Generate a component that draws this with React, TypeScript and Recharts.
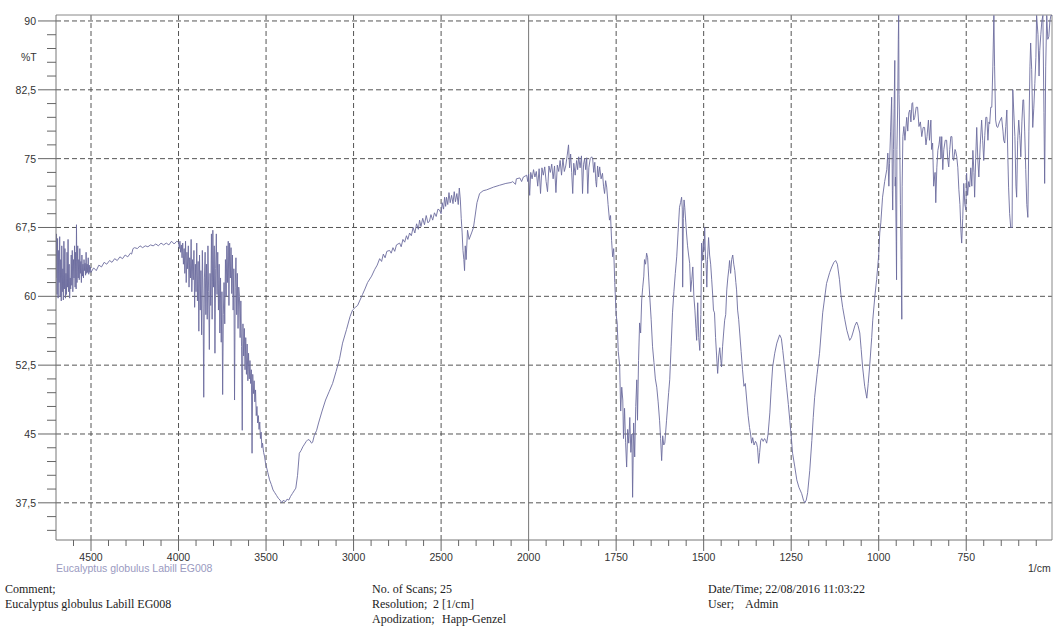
import { LineChart, Line, XAxis, YAxis, ReferenceLine } from "recharts";

// FTIR spectrum of Eucalyptus globulus Labill EG008, [wavenumber (1/cm), %T]
const highEdge: [number, number][] = [
  [4700, 62.0], [4697, 66.8], [4694, 60.2], [4691, 66.3], [4688, 59.8], [4685, 65.0],
  [4682, 61.5], [4679, 66.5], [4676, 60.0], [4673, 64.0], [4670, 59.5], [4667, 65.5],
  [4664, 60.5], [4661, 63.0], [4658, 59.6], [4655, 66.0], [4652, 60.8], [4649, 65.2],
  [4646, 59.8], [4643, 62.5], [4640, 60.2], [4637, 64.8], [4634, 61.0], [4631, 66.2],
  [4628, 60.5], [4625, 63.5], [4622, 59.8], [4619, 62.0], [4616, 60.8], [4613, 64.5],
  [4610, 61.2], [4607, 65.0], [4604, 60.5], [4600, 64.0], [4597, 62.0], [4594, 65.5],
  [4591, 61.0], [4588, 64.8], [4585, 60.8], [4583, 67.8], [4580, 61.5], [4576, 65.5],
  [4573, 62.0], [4570, 64.0], [4567, 61.8], [4564, 65.2], [4561, 62.5], [4558, 63.8],
  [4555, 61.5], [4552, 64.5], [4549, 62.2], [4546, 63.5], [4543, 62.0], [4540, 64.0],
  [4537, 62.8], [4534, 63.6], [4531, 62.3], [4528, 64.8], [4525, 62.5], [4522, 63.5],
  [4519, 62.6], [4516, 64.2], [4513, 62.4], [4510, 63.4], [4507, 62.6], [4504, 63.2],
];

const baseline4500: [number, number][] = [
  [4500, 62.6], [4485, 63.1], [4470, 62.8], [4455, 63.4], [4440, 63.2], [4425, 63.7],
  [4410, 63.5], [4394, 63.9], [4380, 63.7], [4365, 64.1], [4350, 63.9], [4335, 64.3],
  [4320, 64.1], [4305, 64.5], [4290, 64.3], [4275, 64.7], [4268, 64.6], [4260, 65.2],
  [4251, 65.3], [4235, 65.2], [4220, 65.5], [4205, 65.3], [4190, 65.5], [4175, 65.4],
  [4160, 65.6], [4145, 65.5], [4130, 65.7], [4115, 65.5], [4100, 65.8], [4085, 65.6],
  [4070, 65.8], [4055, 65.6], [4040, 66.0], [4025, 65.7], [4010, 66.0],
];

const waterVapour: [number, number][] = [
  [4000, 65.9], [3996, 65.2], [3992, 66.0], [3988, 64.8], [3984, 65.6], [3980, 64.2],
  [3976, 65.8], [3972, 63.5], [3968, 65.2], [3964, 62.5], [3960, 66.0], [3956, 61.5],
  [3952, 64.8], [3948, 63.0], [3944, 65.5], [3940, 61.0], [3936, 64.2], [3932, 62.0],
  [3928, 66.2], [3924, 60.5], [3920, 64.0], [3916, 61.8], [3912, 65.0], [3908, 58.8],
  [3904, 63.5], [3900, 60.5], [3896, 65.8], [3892, 59.5], [3888, 63.8], [3884, 56.2],
  [3880, 64.5], [3876, 58.5], [3872, 62.8], [3868, 55.8], [3864, 65.0], [3860, 60.0],
  [3856, 49.0], [3852, 62.0], [3848, 64.8], [3844, 58.0], [3840, 63.5], [3836, 57.5],
  [3832, 65.5], [3828, 60.5], [3824, 54.2], [3820, 62.5], [3816, 59.0], [3812, 66.8],
  [3808, 57.5], [3804, 67.2], [3800, 61.0], [3796, 65.5], [3792, 53.8], [3788, 63.0],
  [3784, 66.8], [3780, 60.2], [3776, 64.8], [3772, 58.5], [3768, 63.5], [3764, 56.0],
  [3760, 62.0], [3756, 55.0], [3752, 60.5], [3748, 49.3], [3744, 58.0], [3740, 61.5],
  [3736, 57.0], [3732, 64.0], [3728, 60.0], [3724, 65.5], [3720, 61.5], [3716, 66.0],
  [3712, 59.0], [3708, 65.8], [3704, 62.0], [3700, 65.3], [3696, 60.3], [3692, 64.5],
  [3688, 58.5], [3684, 63.0], [3680, 48.7], [3676, 61.0], [3672, 64.2], [3668, 58.0],
  [3664, 62.5], [3660, 56.5], [3656, 61.0], [3652, 60.0], [3648, 55.5], [3644, 59.5],
  [3640, 54.5], [3636, 45.4], [3632, 57.0], [3628, 53.5], [3624, 56.5], [3620, 52.0],
  [3616, 55.5], [3612, 51.5], [3608, 54.8], [3604, 50.8], [3600, 53.8], [3596, 51.0],
  [3592, 53.0], [3588, 50.5], [3584, 52.0], [3580, 42.9], [3576, 51.5], [3572, 49.4],
  [3568, 50.8], [3564, 48.5], [3560, 49.8], [3556, 47.0], [3552, 48.0], [3548, 46.2],
  [3544, 47.0], [3540, 45.5], [3536, 46.3], [3532, 44.5], [3528, 45.2], [3524, 43.5],
  [3520, 44.0], [3514, 43.0], [3508, 42.5],
];

const ohBand: [number, number][] = [
  [3503, 41.8], [3495, 41.2], [3490, 40.8], [3480, 40.0], [3470, 39.5], [3460, 38.9],
  [3450, 38.6], [3440, 38.3], [3430, 38.0], [3420, 37.8], [3410, 37.5], [3400, 37.8],
  [3390, 37.6], [3380, 37.9], [3370, 37.8], [3360, 38.2], [3350, 38.5], [3340, 38.8],
  [3330, 39.1], [3320, 40.5], [3310, 42.9], [3300, 43.2], [3290, 43.6], [3280, 43.9],
  [3270, 44.2], [3260, 44.4], [3250, 44.3], [3240, 44.0], [3234, 44.1], [3225, 44.8],
  [3211, 45.4], [3200, 46.2], [3180, 47.5], [3160, 48.7], [3140, 49.6], [3120, 50.5],
  [3100, 51.8], [3080, 53.2], [3063, 54.9], [3040, 56.4], [3020, 57.8], [3006, 58.5],
  [2990, 58.8], [2977, 59.0], [2963, 59.6], [2949, 60.2], [2935, 60.8], [2920, 61.5],
  [2897, 62.2], [2880, 62.9], [2865, 63.4], [2851, 64.1], [2840, 63.8], [2830, 64.6],
  [2820, 64.2], [2810, 64.9], [2794, 65.0], [2785, 64.7], [2775, 65.3], [2765, 64.9],
  [2755, 65.6], [2737, 65.8], [2728, 65.4], [2718, 66.2], [2708, 65.9], [2698, 66.6],
  [2690, 66.2], [2680, 66.9], [2670, 66.6], [2660, 67.5], [2650, 66.9], [2640, 67.9],
  [2630, 67.3], [2623, 68.3], [2615, 67.6], [2605, 68.5], [2595, 67.8], [2585, 68.8],
  [2575, 68.0], [2566, 68.2], [2558, 68.9], [2548, 68.3], [2538, 69.1], [2528, 68.7],
  [2518, 69.5], [2509, 69.4], [2500, 69.0], [2494, 70.2], [2486, 69.5], [2480, 70.8],
  [2474, 69.8], [2469, 70.8], [2462, 70.0], [2455, 71.3], [2448, 70.2], [2440, 71.0],
  [2432, 70.1], [2425, 71.4], [2418, 70.3], [2410, 71.2], [2402, 70.0], [2396, 71.8],
  [2390, 70.5], [2385, 68.5], [2380, 67.0], [2375, 65.0], [2370, 64.0], [2366, 62.8],
  [2362, 65.5], [2357, 64.0], [2349, 67.2], [2340, 66.2], [2326, 66.9], [2315, 67.5],
  [2309, 68.3], [2295, 70.2], [2280, 71.2], [2260, 71.5], [2240, 71.6], [2200, 71.9],
  [2166, 72.1], [2130, 72.3], [2100, 72.4], [2091, 72.5], [2075, 72.2], [2070, 72.8],
  [2050, 72.9], [2040, 72.5], [2030, 73.0], [2020, 73.1], [2011, 73.2], [2005, 72.5],
];

const carbonylRegion: [number, number][] = [
  [2000, 73.3], [1997, 71.0], [1994, 73.5], [1990, 72.8], [1986, 73.8], [1982, 73.0],
  [1978, 73.6], [1974, 72.0], [1970, 73.9], [1966, 71.2], [1962, 74.0], [1958, 73.2],
  [1954, 74.1], [1950, 72.5], [1946, 71.4], [1942, 74.2], [1938, 73.5], [1934, 74.4],
  [1930, 72.8], [1926, 74.2], [1922, 71.3], [1918, 74.3], [1914, 73.6], [1910, 74.8],
  [1906, 73.2], [1902, 75.0], [1898, 73.6], [1894, 74.2], [1890, 75.3], [1886, 76.5],
  [1883, 74.0], [1880, 75.5], [1877, 73.5], [1874, 71.2], [1871, 74.5], [1867, 73.2],
  [1863, 74.8], [1860, 73.8], [1857, 75.2], [1853, 74.0], [1849, 75.3], [1846, 71.2],
  [1843, 74.4], [1840, 75.0], [1837, 73.8], [1834, 75.1], [1831, 71.2], [1828, 74.0],
  [1824, 75.0], [1820, 75.2], [1817, 75.0], [1814, 73.5], [1811, 74.6], [1808, 72.5],
  [1806, 71.9], [1803, 74.2], [1800, 73.0], [1797, 74.1], [1793, 72.8], [1789, 73.4],
  [1786, 72.0], [1783, 71.2], [1780, 72.6], [1777, 71.9], [1773, 70.0], [1769, 68.3],
  [1766, 68.8], [1763, 66.1], [1760, 64.3], [1757, 65.2], [1754, 61.5], [1750, 58.0],
  [1747, 57.1], [1744, 54.0], [1740, 52.5], [1737, 47.5], [1734, 50.1], [1731, 48.7],
  [1729, 44.5], [1726, 47.8], [1723, 44.1], [1720, 41.4], [1717, 45.5], [1714, 44.0],
  [1711, 46.8], [1708, 43.0], [1705, 45.0], [1703, 38.1], [1700, 46.2], [1697, 42.5],
  [1694, 48.0], [1691, 50.9], [1689, 46.5], [1686, 53.0], [1683, 57.1], [1680, 56.0],
  [1677, 59.6], [1674, 61.0], [1671, 62.2], [1669, 64.0], [1666, 63.5], [1663, 64.7],
  [1660, 64.2], [1657, 62.0], [1654, 60.0], [1650, 57.5], [1646, 54.5], [1642, 52.8],
  [1638, 51.0], [1634, 50.1], [1630, 48.5], [1626, 46.5], [1623, 44.5], [1620, 42.1],
  [1617, 44.8], [1614, 43.8], [1611, 44.0], [1606, 46.5], [1600, 49.5], [1597, 50.9],
  [1593, 54.5], [1589, 58.2], [1585, 60.5], [1581, 62.5], [1577, 64.3], [1573, 67.0],
  [1569, 69.7], [1566, 70.2], [1563, 70.8], [1561, 69.5], [1560, 61.0], [1558, 68.5],
  [1556, 70.5], [1554, 69.7], [1551, 68.0], [1549, 66.9], [1546, 65.5], [1543, 64.5],
  [1540, 63.6], [1537, 60.5], [1534, 61.8], [1531, 63.2], [1528, 60.0], [1525, 58.5],
  [1522, 56.5], [1520, 55.2], [1517, 59.3], [1514, 55.5], [1511, 54.1], [1508, 58.0],
];

const fingerprint: [number, number][] = [
  [1506, 65.8], [1503, 63.9], [1501, 66.0], [1499, 65.0], [1497, 67.5], [1495, 64.5],
  [1493, 63.5], [1491, 61.0], [1489, 64.0], [1486, 66.4], [1483, 64.5], [1480, 63.5],
  [1477, 61.8], [1474, 60.0], [1472, 58.5], [1469, 58.2], [1466, 55.5], [1463, 53.5],
  [1460, 51.6], [1457, 53.5], [1454, 54.4], [1451, 53.0], [1449, 52.3], [1446, 54.5],
  [1443, 56.0], [1440, 57.4], [1437, 58.0], [1434, 60.7], [1431, 62.0], [1428, 63.0],
  [1426, 63.9], [1423, 62.5], [1420, 64.0], [1417, 64.5], [1414, 63.5], [1411, 62.8],
  [1408, 61.5], [1406, 60.7], [1403, 58.5], [1400, 57.5], [1397, 56.0], [1393, 54.0],
  [1389, 52.0], [1385, 50.2], [1381, 50.5], [1377, 48.7], [1373, 47.0], [1369, 45.7],
  [1366, 45.0], [1363, 44.0], [1360, 44.6], [1356, 43.8], [1352, 44.2], [1349, 44.0],
  [1346, 43.5], [1343, 41.8], [1340, 43.0], [1337, 44.3], [1334, 44.5], [1330, 44.2],
  [1326, 44.5], [1323, 44.3], [1320, 44.0], [1316, 45.0], [1311, 47.3], [1307, 50.0],
  [1303, 52.3], [1297, 53.8], [1291, 54.9], [1283, 55.8], [1278, 55.4], [1274, 54.1],
  [1268, 52.0], [1263, 50.1], [1258, 48.2], [1254, 46.5], [1250, 44.8], [1246, 42.9],
  [1240, 41.5], [1234, 40.0], [1228, 39.2], [1220, 38.5], [1215, 37.8], [1211, 37.5],
  [1207, 37.8], [1203, 38.6], [1197, 41.0], [1191, 44.3], [1187, 46.8], [1183, 49.0],
  [1176, 51.5], [1169, 53.8], [1160, 58.2], [1149, 61.4], [1140, 62.6], [1134, 63.2],
  [1128, 63.7], [1123, 63.9], [1118, 63.5], [1112, 61.8], [1108, 60.2], [1103, 58.8],
  [1097, 57.5], [1091, 56.3], [1083, 55.2], [1078, 55.5], [1074, 56.0], [1068, 56.8],
  [1063, 57.2], [1059, 56.8], [1054, 56.0], [1050, 54.2], [1046, 52.3], [1040, 50.2],
  [1034, 48.9], [1030, 50.5], [1026, 52.3], [1020, 55.5], [1017, 57.4], [1011, 60.0],
  [1006, 61.8], [1000, 64.5],
];

const lowEdge: [number, number][] = [
  [997, 66.9], [994, 68.0], [989, 70.8], [983, 72.5], [977, 73.8], [974, 75.6],
  [971, 72.0], [969, 74.5], [966, 78.0], [963, 81.7], [961, 71.5], [960, 69.4],
  [958, 76.0], [956, 80.5], [954, 85.7], [953, 72.0], [952, 73.0], [950, 66.0],
  [949, 61.8], [948, 76.0], [946, 80.3], [944, 88.0], [943, 90.6], [942, 82.0],
  [941, 80.3], [938, 70.0], [936, 64.0], [934, 57.5], [933, 72.0], [931, 77.4],
  [928, 78.5], [925, 77.0], [920, 79.5], [917, 78.0], [914, 80.0], [911, 80.3],
  [908, 79.0], [905, 81.0], [903, 81.1], [900, 79.2], [897, 79.5], [893, 80.6],
  [889, 80.6], [885, 78.5], [881, 79.0], [877, 77.4], [873, 78.4], [869, 78.4],
  [865, 76.5], [862, 77.4], [858, 79.2], [855, 77.0], [851, 79.2], [849, 76.0],
  [846, 76.7], [843, 72.0], [839, 73.5], [837, 70.2], [834, 74.0], [831, 75.9],
  [828, 76.5], [825, 77.4], [822, 75.0], [820, 77.4], [817, 73.8], [814, 76.0],
  [810, 77.0], [806, 77.0], [803, 75.0], [800, 74.1], [797, 76.0], [794, 77.4],
  [791, 77.4], [788, 75.0], [786, 74.8], [782, 76.0], [780, 75.8], [777, 75.2],
  [774, 74.0], [771, 71.6], [768, 70.0], [765, 67.0], [763, 65.8], [760, 68.5],
  [757, 72.3], [754, 70.0], [751, 69.4], [749, 73.4], [746, 71.0], [743, 72.5],
  [740, 71.9], [737, 74.0], [734, 72.0], [731, 75.9], [728, 73.5], [726, 70.8],
  [723, 75.0], [720, 78.4], [717, 75.0], [714, 73.0], [710, 76.5], [706, 79.2],
  [703, 77.0], [700, 74.8], [697, 77.5], [694, 79.5], [691, 79.5], [688, 77.0],
  [685, 79.0], [683, 78.8], [680, 80.6], [677, 80.6], [674, 85.0], [671, 90.6],
  [669, 85.0], [666, 79.2], [663, 78.5], [660, 78.4], [655, 79.0], [649, 79.5],
  [645, 78.0], [643, 77.0], [640, 76.7], [637, 78.5], [634, 80.3], [631, 75.0],
  [629, 71.9], [626, 69.0], [623, 67.5], [619, 67.5], [617, 82.5], [611, 77.4],
  [608, 72.0], [606, 70.8], [603, 77.0], [600, 79.2], [597, 77.5], [594, 75.2],
  [591, 79.0], [588, 81.4], [586, 81.4], [583, 78.0], [580, 73.8], [577, 70.0],
  [574, 68.6], [571, 78.0], [568, 85.0], [566, 87.6], [563, 84.7], [560, 78.4],
  [557, 80.5], [554, 83.2], [551, 86.0], [549, 90.6], [545, 88.5], [542, 84.0],
  [540, 86.8], [537, 88.5], [534, 90.0], [531, 90.6], [528, 80.0], [526, 72.3],
  [523, 85.0], [520, 90.6], [517, 88.0], [514, 88.3], [511, 90.0], [508, 90.6],
  [505, 90.6],
];

const xMajorTicks = [4500, 4000, 3500, 3000, 2500, 2000, 1750, 1500, 1250, 1000, 750];
const yMajorTicks = [37.5, 45, 52.5, 60, 67.5, 75, 82.5, 90];

// axis is compressed 2x above 2000 1/cm (as on the instrument printout)
const toU = (w: number) => (w > 2000 ? 2000 + (w - 2000) / 2 : w);
const fromU = (u: number) => (u > 2000 ? 2000 + (u - 2000) * 2 : u);

const spectrum = [...highEdge, ...baseline4500, ...waterVapour, ...ohBand, ...carbonylRegion, ...fingerprint, ...lowEdge];
const data = spectrum.map(([w, t]) => ({ u: toU(w), t }));

const xMinor: number[] = [];
for (let w = 4600; w > 2000; w -= 100) xMinor.push(w);
for (let w = 1950; w >= 550; w -= 50) xMinor.push(w);
const xTicks = Array.from(new Set([...xMinor, ...xMajorTicks])).map(toU);

const yTicks: number[] = [];
for (let i = 0; i < 38; i++) yTicks.push(Math.round((34.5 + i * 1.5) * 10) / 10);

const X_DOMAIN: [number, number] = [toU(505), toU(4700)];
const Y_DOMAIN: [number, number] = [33.45, 90.65];
const axisFont = "'Liberation Sans', Arial, sans-serif";

const XTick = (props: any) => {
  const { x, y, payload } = props;
  const w = Math.round(fromU(payload.value));
  const major = xMajorTicks.includes(w);
  return (
    <g>
      <line x1={x} x2={x} y1={y} y2={y + (major ? 11 : 6)} stroke="#666" />
      {major && (
        <text x={x} y={y + 21} textAnchor="middle" fontSize={10.5} fontFamily={axisFont} fill="#333">
          {w}
        </text>
      )}
    </g>
  );
};

const YTick = (props: any) => {
  const { x, y, payload } = props;
  const v = payload.value;
  const major = yMajorTicks.some((m) => Math.abs(m - v) < 0.01);
  return (
    <g>
      <line x1={x - (major ? 18 : 9)} x2={x} y1={y} y2={y} stroke="#666" />
      {major && (
        <text x={x - 20} y={y + 4} textAnchor="end" fontSize={10.5} fontFamily={axisFont} fill="#333">
          {String(v).replace(".", ",")}
        </text>
      )}
    </g>
  );
};

const footer: React.CSSProperties = {
  position: "absolute",
  fontFamily: "'Liberation Serif', 'Times New Roman', serif",
  fontSize: 12,
  color: "#222",
  whiteSpace: "pre",
  lineHeight: "15px",
};

export default function App() {
  return (
    <div style={{ position: "absolute", left: 0, top: 0, width: 1055, height: 642, background: "#fff" }}>
      <LineChart width={1055} height={600} data={data} margin={{ top: 15, right: 3, left: 0, bottom: 0 }}>
        <XAxis
          dataKey="u"
          type="number"
          domain={X_DOMAIN}
          reversed
          ticks={xTicks}
          interval={0}
          tick={<XTick />}
          tickSize={0}
          tickMargin={0}
          height={60}
          axisLine={{ stroke: "#777" }}
          allowDataOverflow
        />
        <YAxis
          type="number"
          domain={Y_DOMAIN}
          ticks={yTicks}
          interval={0}
          tick={<YTick />}
          tickSize={0}
          tickMargin={0}
          width={56}
          axisLine={{ stroke: "#777" }}
          allowDataOverflow
        />
        {yMajorTicks.map((v) => (
          <ReferenceLine key={"h" + v} y={v} stroke="#555" strokeDasharray="5 3" />
        ))}
        {xMajorTicks.map((w) => (
          <ReferenceLine
            key={"v" + w}
            x={toU(w)}
            stroke={w === 2000 ? "#777" : "#555"}
            strokeDasharray={w === 2000 ? undefined : "5 3"}
          />
        ))}
        <ReferenceLine y={Y_DOMAIN[1]} stroke="#888" />
        <ReferenceLine x={X_DOMAIN[0]} stroke="#888" />
        <Line
          type="linear"
          dataKey="t"
          stroke="#6c6c9e"
          strokeWidth={0.9}
          dot={false}
          isAnimationActive={false}
        />
      </LineChart>

      <div style={{ position: "absolute", left: 21, top: 51, fontSize: 10.5, fontFamily: axisFont, color: "#333" }}>%T</div>
      <div style={{ position: "absolute", left: 56, top: 562, fontSize: 10.5, fontFamily: axisFont, color: "#9a9abf" }}>
        Eucalyptus globulus Labill EG008
      </div>
      <div style={{ position: "absolute", left: 1028, top: 562, fontSize: 10.5, fontFamily: axisFont, color: "#333" }}>1/cm</div>

      <div style={{ ...footer, left: 5, top: 582 }}>{"Comment;\nEucalyptus globulus Labill EG008"}</div>
      <div style={{ ...footer, left: 372, top: 582 }}>{"No. of Scans; 25"}</div>
      <div style={{ ...footer, left: 372, top: 597 }}>{"Resolution;"}</div>
      <div style={{ ...footer, left: 433, top: 597 }}>{"2 [1/cm]"}</div>
      <div style={{ ...footer, left: 372, top: 612 }}>{"Apodization;"}</div>
      <div style={{ ...footer, left: 442, top: 612 }}>{"Happ-Genzel"}</div>
      <div style={{ ...footer, left: 708, top: 582 }}>{"Date/Time; 22/08/2016 11:03:22"}</div>
      <div style={{ ...footer, left: 708, top: 597 }}>{"User;"}</div>
      <div style={{ ...footer, left: 745, top: 597 }}>{"Admin"}</div>
    </div>
  );
}
